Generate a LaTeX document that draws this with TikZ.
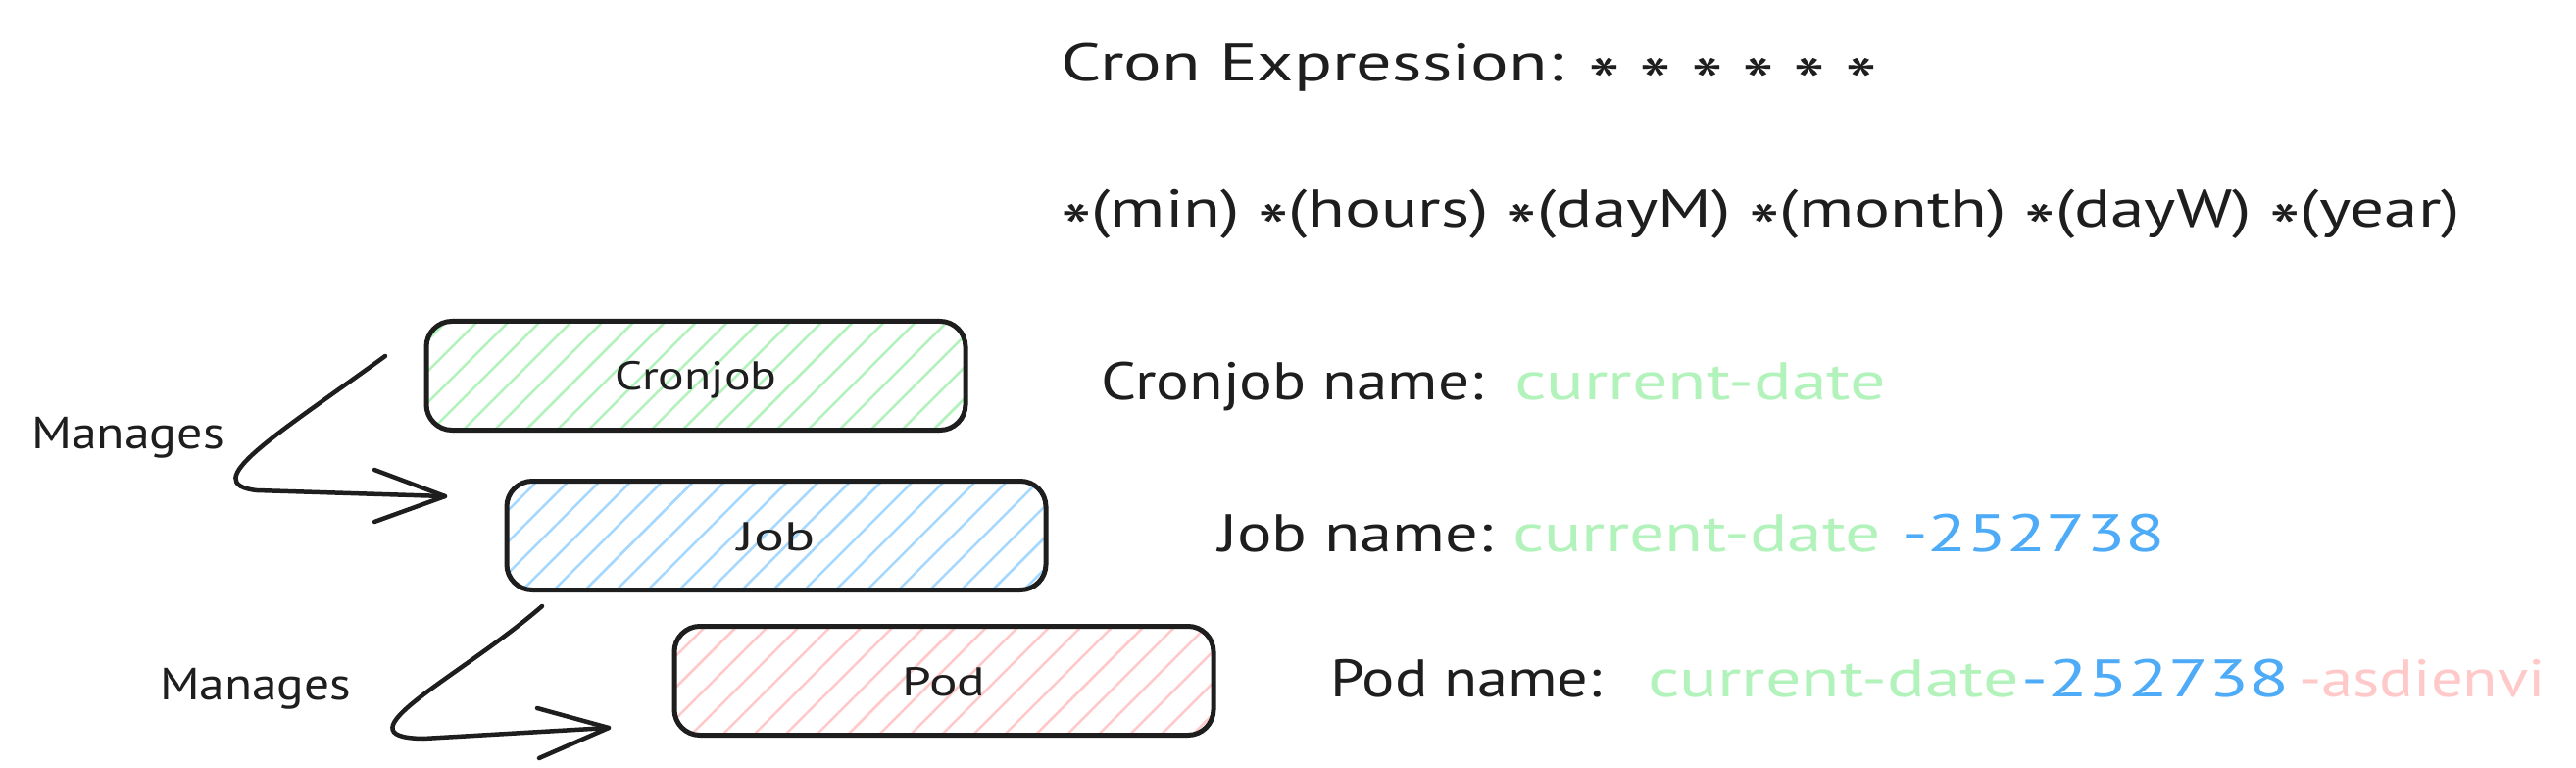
\documentclass[tikz,border=0pt]{standalone}
\usepackage{fontspec}
\setmainfont{PT Sans}
\usepackage{graphicx}
\usetikzlibrary{patterns.meta,calc}
\definecolor{ink}{HTML}{1E1E1E}
\definecolor{hgreen}{HTML}{B2F2BB}
\definecolor{hblue}{HTML}{A5D8FF}
\definecolor{tblue}{HTML}{4DABF7}
\definecolor{hred}{HTML}{FFC9C9}
\newcommand\fitto[2]{\resizebox{#1pt}{\height}{#2}}
\newcommand\st{\raisebox{-0.5em}{\scalebox{1.3}{*}}}
\begin{document}
\begin{tikzpicture}[x=1pt,y=-1pt,
  every node/.style={inner sep=0pt, outer sep=0pt, text=ink},
  big/.style={anchor=base west, font=\fontsize{54}{60}\selectfont},
  lbl/.style={anchor=base west, font=\fontsize{46}{50}\selectfont},
  card/.style={draw=ink, line width=5pt, rounded corners=26pt,
    minimum width=550pt, minimum height=111pt,
    font=\fontsize{41}{45}\selectfont, text height=30pt, text depth=0pt,
    pattern={Lines[angle=45,distance=22.6pt,line width=2.5pt]}},
  conn/.style={draw=ink, line width=4.5pt, line cap=round, line join=round}]
\fill[white] (0,0) rectangle (2628,783);
\useasboundingbox (0,0) rectangle (2628,783);

% cards
\node[card, pattern color=hgreen] (cron) at (710,383) {\fitto{165}{Cronjob}};
\node[card, pattern color=hblue] (job) at (792,546) {\fitto{79}{Job}};
\node[card, pattern color=hred] (pod) at (963,694) {\fitto{85}{Pod}};

% labels
\node[lbl] (m1) at (32,457) {\fitto{197}{Manages}};
\node[lbl] (m2) at (163,713) {\fitto{195}{Manages}};

% arrows
\coordinate (a1s) at (393,363);
\coordinate (a1e) at (454,506);
\draw[conn] (a1s) .. controls (280,445) and (200,493) .. (262,500) -- (a1e);
\draw[conn] ($(a1e)+(-72,-27)$) -- (a1e) -- ($(a1e)+(-72,26)$);
\coordinate (a2s) at (553,618);
\coordinate (a2e) at (621,742);
\draw[conn] (a2s) .. controls (470,690) and (340,752) .. (432,753) -- (a2e);
\draw[conn] ($(a2e)+(-73,-20)$) -- (a2e) -- ($(a2e)+(-71,31)$);

% cron expression
\node[big] (expr) at (1082,83) {\fitto{833}{Cron Expression: \st{} \st{} \st{} \st{} \st{} \st}};
\node[big] (fields) at (1082,232) {\fitto{1428}{\st(min) \st(hours) \st(dayM) \st(month) \st(dayW) \st(year)}};

% names
\node[big] (cn) at (1123,407) {\fitto{390}{Cronjob name:}};
\node[big, text=hgreen] (cnv) at (1545,407) {\fitto{379}{current-date}};

\node[big] (jn) at (1243,562) {\fitto{280}{Job name:}};
\node[big, text=hgreen] (jnv) at (1543,562) {\fitto{376}{current-date}};
\node[big, text=tblue] (jnn) at (1940,562) {\fitto{269}{-252738}};

\node[big] (pn) at (1357,710) {\fitto{277}{Pod name:}};
\node[big, text=hgreen] (pnv) at (1681,710) {\fitto{379}{current-date}};
\node[big, text=tblue] (pnn) at (2062,710) {\fitto{273}{-252738}};
\node[big, text=hred] (pns) at (2345,710) {\fitto{252}{-asdienvi}};
\end{tikzpicture}
\end{document}
